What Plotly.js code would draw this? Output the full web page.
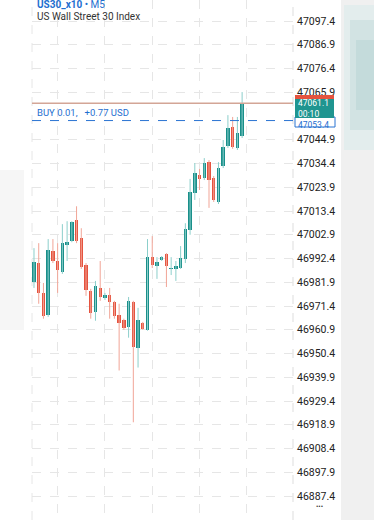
<!DOCTYPE html>
<html>
<head>
<meta charset="utf-8">
<script src="https://cdn.plot.ly/plotly-3.0.1.min.js"></script>
<style>
  html, body { margin: 0; padding: 0; background: #ffffff; }
  #chart { width: 374px; height: 520px; }
</style>
</head>
<body>
<div id="chart"></div>
<script>
// ---- Data (US30_x10, M5 candles) ----
const symbolTitle = "US30_x10";
const timeframe = "M5";
const instrumentName = "US Wall Street 30 Index";

const openP  = [46982.0, 46990.6, 46977.2, 46967.5, 46995.6, 46991.2, 46986.4, 46998.3, 47000.1, 47009.3,
                47001.4, 46989.5, 46978.1, 46968.8, 46979.4, 46975.0, 46976.3, 46973.2, 46967.5, 46965.3,
                46962.2, 46973.2, 46953.0, 46964.0, 46960.9, 46993.0, 46989.1, 46991.7, 46994.4, 46987.8,
                46987.8, 46988.2, 46992.2, 47005.1, 47021.4, 47029.3, 47028.0, 47035.0, 47028.0, 47017.4,
                47033.3, 47042.2, 47050.5, 47041.3, 47046.6];
const highP  = [46997.0, 46999.2, 46981.6, 47001.0, 47001.0, 46999.2, 47007.6, 47008.9, 47008.9, 47015.5,
                47005.8, 46990.4, 46979.0, 46982.5, 46991.3, 46977.2, 46979.4, 46973.7, 46972.4, 46965.8,
                46975.4, 46973.7, 46970.6, 46964.4, 47001.0, 47002.3, 46993.0, 46993.5, 46994.8, 46993.0,
                46991.3, 46997.9, 47008.0, 47027.6, 47034.6, 47032.0, 47036.8, 47035.9, 47028.9, 47035.0,
                47044.8, 47055.8, 47055.0, 47055.0, 47066.0];
const lowP   = [46979.4, 46972.4, 46965.8, 46966.6, 46990.4, 46977.2, 46985.6, 46991.3, 46999.6, 46999.2,
                46987.8, 46975.9, 46965.8, 46964.9, 46973.7, 46974.1, 46965.8, 46965.8, 46942.9, 46960.9,
                46957.4, 46920.0, 46944.2, 46960.9, 46960.5, 46988.2, 46983.4, 46991.3, 46979.8, 46985.1,
                46982.5, 46987.8, 46990.4, 47002.9, 47018.3, 47022.7, 47027.1, 47014.8, 47017.4, 47016.5,
                47032.4, 47041.3, 47040.9, 47040.4, 47045.7];
const closeP = [46990.8, 46977.2, 46967.1, 46996.1, 46991.3, 46987.3, 46999.2, 46999.6, 47008.5, 47000.1,
                46988.6, 46978.5, 46968.4, 46980.3, 46975.4, 46976.3, 46973.2, 46967.1, 46964.0, 46961.8,
                46973.7, 46953.4, 46965.3, 46961.3, 46993.0, 46989.5, 46990.8, 46993.0, 46989.1, 46988.2,
                46989.1, 46992.6, 47005.4, 47021.8, 47030.2, 47027.6, 47034.6, 47027.1, 47018.3, 47032.4,
                47041.7, 47050.1, 47041.7, 47047.9, 47061.1];

const lastPrice = 47061.1;
const lastPriceLabel = "47061.1";
const countdownLabel = "00:10";
const buyPrice = 47053.4;
const buyPriceLabel = "47053.4";
const buyText = "BUY 0.01,   +0.77 USD";

// visible price-scale labels (47055.4 is hidden behind the price boxes in the reference)
const yTickLabels = ["46887.4", "46897.9", "46908.4", "46918.9", "46929.4", "46939.9", "46950.4",
                     "46960.9", "46971.4", "46981.9", "46992.4", "47002.9", "47013.4", "47023.9",
                     "47034.4", "47044.9", "47065.9", "47076.4", "47086.9", "47097.4"];

// ---- Styles ----
const UP = "#1a8f8a", DOWN = "#e5533f";
const UP_WICK = "#8ccfcb", DOWN_WICK = "#f1a597";
const W = 374, H = 520, PL = 32, PR = 293;
const pxX = px => (px - PL) / (PR - PL);   // pixel -> paper x
const pxY = py => 1 - py / H;              // pixel -> paper y
const FONT = "Roboto, sans-serif";

// ---- Build traces from data ----
const xIdx = openP.map((_, i) => i);
const isUp = openP.map((o, i) => closeP[i] >= o);

const upWx = [], upWy = [], dnWx = [], dnWy = [];
xIdx.forEach(i => {
  const tx = isUp[i] ? upWx : dnWx, ty = isUp[i] ? upWy : dnWy;
  tx.push(i, i, null); ty.push(lowP[i], highP[i], null);
});

const bodyBase = openP.map((o, i) => Math.min(o, closeP[i]));
const bodyLen  = openP.map((o, i) => Math.max(Math.abs(closeP[i] - o), 0.45));

const traces = [
  { type: "scatter", mode: "lines", x: upWx, y: upWy, line: { color: UP_WICK, width: 1 }, hoverinfo: "skip", showlegend: false, connectgaps: false },
  { type: "scatter", mode: "lines", x: dnWx, y: dnWy, line: { color: DOWN_WICK, width: 1 }, hoverinfo: "skip", showlegend: false, connectgaps: false },
  { type: "bar", x: xIdx, y: bodyLen, base: bodyBase, width: 0.72,
    marker: { color: isUp.map(u => u ? UP : DOWN), line: { width: 0 } }, showlegend: false, hoverinfo: "skip" }
];

const shapes = [
  // right blurred strip
  { type: "rect", xref: "paper", yref: "paper", x0: pxX(341), x1: pxX(380), y0: 0, y1: 1, fillcolor: "#f0f0f0", line: { width: 0 }, layer: "below" },
  { type: "rect", xref: "paper", yref: "paper", x0: pxX(344), x1: pxX(380), y0: pxY(150), y1: pxY(5), fillcolor: "#e3eded", line: { width: 0 }, layer: "below" },
  { type: "rect", xref: "paper", yref: "paper", x0: pxX(350), x1: pxX(380), y0: pxY(130), y1: pxY(20), fillcolor: "#d2e3e3", line: { width: 0 }, layer: "below" },
  { type: "rect", xref: "paper", yref: "paper", x0: pxX(356), x1: pxX(380), y0: pxY(110), y1: pxY(40), fillcolor: "#c4dbdb", line: { width: 0 }, layer: "below" },
  // left faint strip
  { type: "rect", xref: "paper", yref: "paper", x0: pxX(0), x1: pxX(24), y0: pxY(330), y1: pxY(170), fillcolor: "#f6f6f6", line: { width: 0 }, layer: "below" },
  // dashed left / right plot borders
  { type: "line", xref: "paper", yref: "paper", x0: 0, x1: 0, y0: 0, y1: 1, line: { color: "#e6e6e6", width: 1, dash: "dash" }, layer: "below" },
  { type: "line", xref: "paper", yref: "paper", x0: 1, x1: 1, y0: 0, y1: 1, line: { color: "#dddddd", width: 1, dash: "dash" }, layer: "below" },
  // last price line
  { type: "line", xref: "paper", yref: "y", x0: 0, x1: 1, y0: lastPrice, y1: lastPrice, line: { color: "#d3a596", width: 1.5 }, layer: "above" },
  // buy line
  { type: "line", xref: "paper", yref: "y", x0: 0, x1: 1, y0: buyPrice, y1: buyPrice, line: { color: "#2a74d2", width: 1, dash: "dash" }, layer: "above" },
  // price label boxes
  { type: "rect", xref: "paper", yref: "paper", x0: pxX(295), x1: pxX(335), y0: pxY(127), y1: pxY(117), fillcolor: "#ffffff", line: { color: "#2a74d2", width: 1 }, layer: "above" },
  { type: "rect", xref: "paper", yref: "paper", x0: pxX(295), x1: pxX(334), y0: pxY(99), y1: pxY(95), fillcolor: "#e5533f", line: { width: 0 }, layer: "above" },
  { type: "rect", xref: "paper", yref: "paper", x0: pxX(295), x1: pxX(334), y0: pxY(118), y1: pxY(99), fillcolor: "#1f9590", line: { width: 0 }, layer: "above" }
];

const annotations = [
  { xref: "paper", yref: "paper", x: pxX(35), y: pxY(5), xanchor: "left", yanchor: "middle", showarrow: false,
    text: "<b>" + symbolTitle + "</b> • " + timeframe, font: { family: FONT, size: 10, color: "#1f6fd0" } },
  { xref: "paper", yref: "paper", x: pxX(35), y: pxY(16.5), xanchor: "left", yanchor: "middle", showarrow: false,
    text: instrumentName, font: { family: FONT, size: 10, color: "#333333" } },
  { xref: "paper", yref: "y", x: pxX(35), y: buyPrice, xanchor: "left", yanchor: "bottom", yshift: 1, showarrow: false,
    text: buyText, font: { family: FONT, size: 9.5, color: "#1f6fd0" } },
  { xref: "paper", yref: "paper", x: pxX(297), y: pxY(108.3), xanchor: "left", yanchor: "middle", showarrow: false, align: "left",
    borderpad: 0, text: lastPriceLabel + "<br>" + countdownLabel, font: { family: FONT, size: 8.5, color: "#ffffff" } },
  { xref: "paper", yref: "paper", x: pxX(297), y: pxY(124.5), xanchor: "left", yanchor: "middle", showarrow: false,
    borderpad: 0, text: buyPriceLabel, font: { family: FONT, size: 8.5, color: "#1f6fd0" } },
  { xref: "paper", yref: "paper", x: pxX(319), y: pxY(507), xanchor: "center", yanchor: "middle", showarrow: false,
    text: "•••", font: { family: FONT, size: 7, color: "#333333" } }
];

const layout = {
  width: W, height: H,
  margin: { l: PL, r: W - PR, t: 0, b: 0, pad: 0 },
  paper_bgcolor: "#ffffff", plot_bgcolor: "#ffffff",
  showlegend: false, bargap: 0,
  xaxis: {
    range: [-0.42, 54.76], showticklabels: false, ticks: "", zeroline: false, showline: false,
    showgrid: true, tick0: 5, dtick: 10, gridcolor: "#e6e6e6", griddash: "dash", gridwidth: 1, fixedrange: true
  },
  yaxis: {
    side: "right", range: [46876.8, 47106.7], tickmode: "array",
    tickvals: yTickLabels.map(Number), ticktext: yTickLabels,
    tickfont: { family: FONT, size: 10.5, color: "#222222" },
    ticks: "", ticklabelstandoff: 3, showline: false,
    showgrid: true, gridcolor: "#e6e6e6", griddash: "dash", gridwidth: 1, zeroline: false, fixedrange: true
  },
  shapes: shapes,
  annotations: annotations
};

Plotly.newPlot("chart", traces, layout, { displayModeBar: false, staticPlot: true });
</script>
</body>
</html>
